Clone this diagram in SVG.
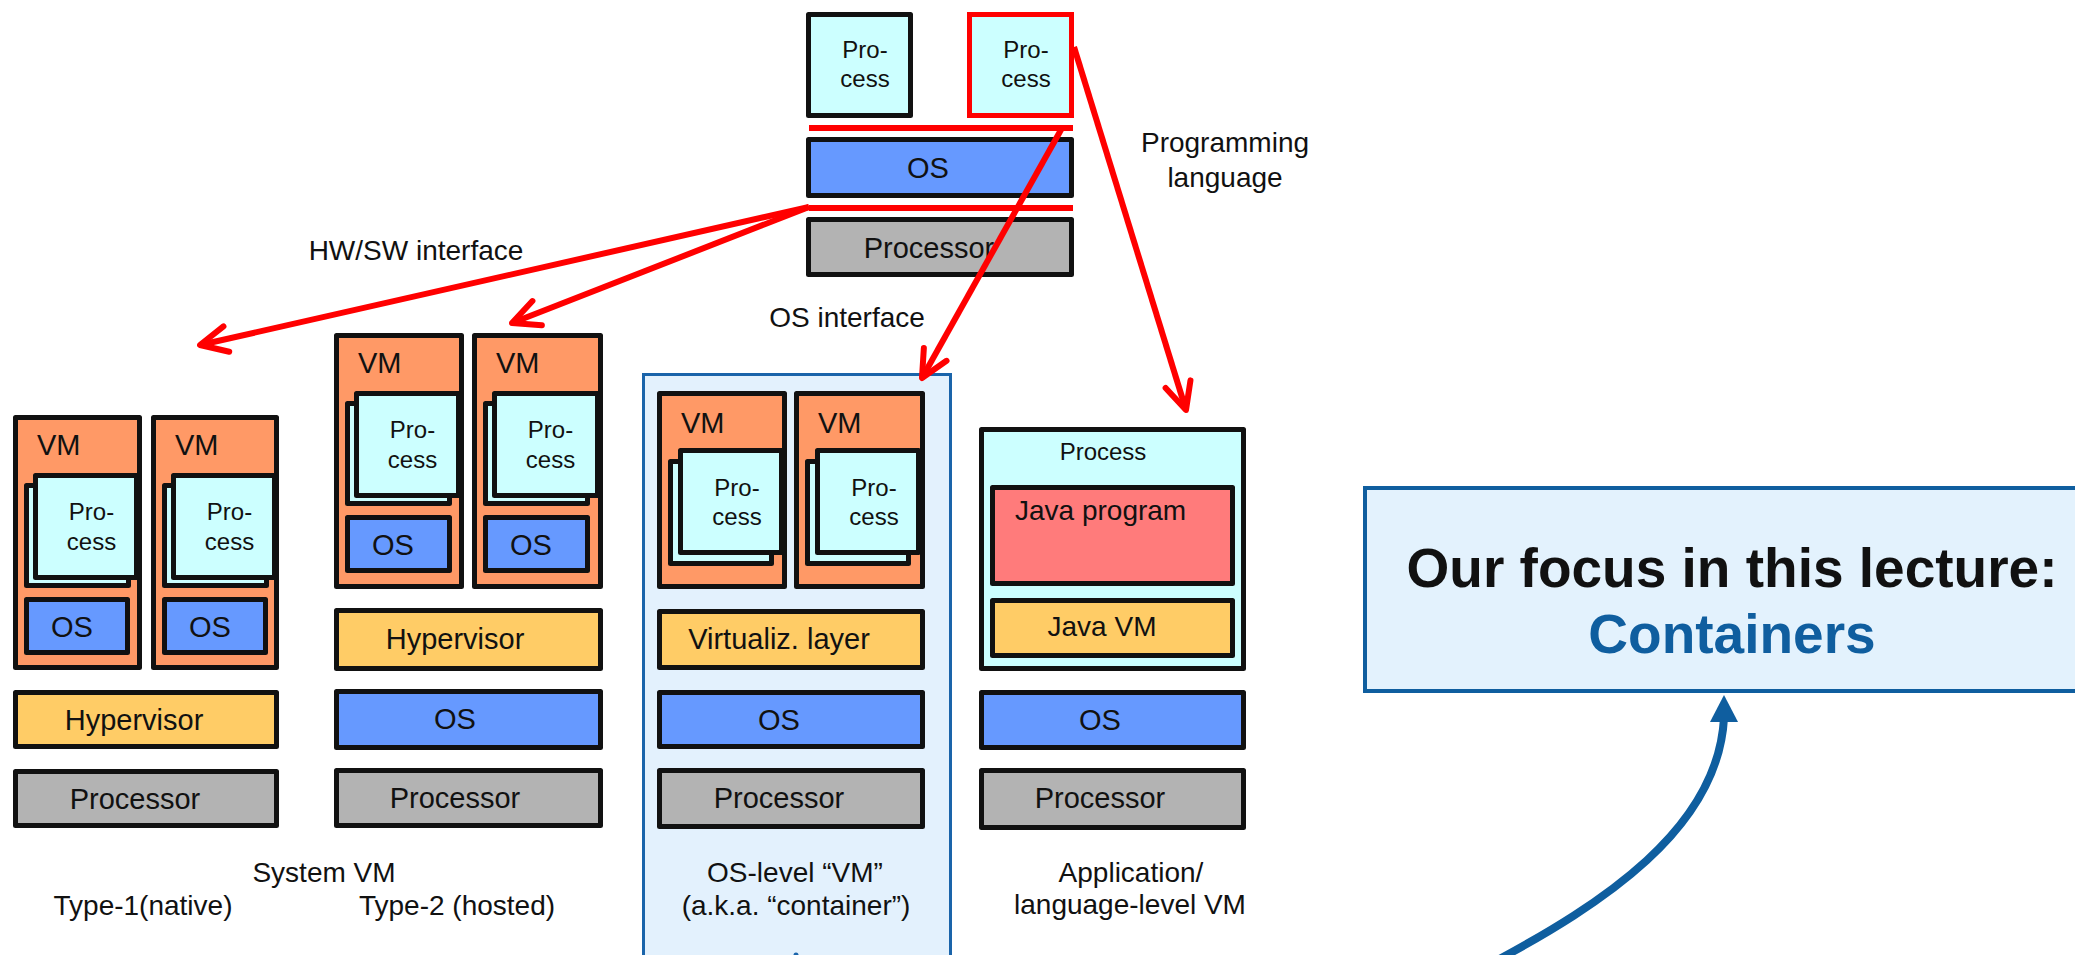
<svg xmlns="http://www.w3.org/2000/svg" width="2075" height="955" viewBox="0 0 2075 955">
  <defs>
    <style>
      text { font-family: "Liberation Sans", Arial, sans-serif; fill: #111; }
      .box { stroke: #111; stroke-width: 5; stroke-linejoin: round; }
      .proc { fill: #ccffff; }
      .os { fill: #6699ff; }
      .cpu { fill: #b3b3b3; }
      .hyp { fill: #ffcc66; }
      .vm { fill: #ff9966; }
      .java { fill: #ff7b7b; }
      .t24 { font-size: 24px; }
      .t28 { font-size: 28px; }
      .t29 { font-size: 29px; }
      .mid { text-anchor: middle; }
      .red { fill: none; stroke: #ff0000; stroke-width: 6; }
      .bold { font-weight: bold; font-size: 55px; text-anchor: middle; }
    </style>
    <marker id="vee" markerUnits="userSpaceOnUse" markerWidth="40" markerHeight="40" viewBox="-32 -20 40 40" refX="0" refY="0" orient="auto" overflow="visible">
      <path d="M-27,-13 L0,0 L-27,13" fill="none" stroke="#ff0000" stroke-width="6" stroke-linecap="round" stroke-linejoin="round"/>
    </marker>
  </defs>

  <rect width="2075" height="955" fill="#ffffff"/>

  <!-- Reference stack: two processes on an OS on a processor -->
  <g id="top-stack">
    <rect class="box proc" x="808.5" y="14.5" width="102" height="101"/>
    <text class="t24 mid" x="865" y="58">Pro-</text>
    <text class="t24 mid" x="865" y="87">cess</text>
    <rect class="proc" x="969.5" y="14.5" width="102" height="101" stroke="#ff0000" stroke-width="5"/>
    <text class="t24 mid" x="1026" y="58">Pro-</text>
    <text class="t24 mid" x="1026" y="87">cess</text>
    <rect class="box os" x="808.5" y="139.5" width="263" height="56"/>
    <text class="t29 mid" x="928" y="178">OS</text>
    <rect class="box cpu" x="808.5" y="219.5" width="263" height="55"/>
    <text class="t29 mid" x="929" y="258">Processor</text>
    <line x1="809" y1="128" x2="1073" y2="128" stroke="#ff0000" stroke-width="6"/>
    <line x1="809" y1="208" x2="1073" y2="208" stroke="#ff0000" stroke-width="6"/>
  </g>

  <!-- Type-1 (native) system VM -->
  <g id="type1">
    <rect class="box vm" x="15.5" y="417.5" width="124" height="250"/>
    <text class="t29" x="37" y="455">VM</text>
    <rect class="box proc" x="26.5" y="485.5" width="102" height="100"/>
    <rect class="box proc" x="35.5" y="475.5" width="101" height="102"/>
    <text class="t24 mid" x="91.5" y="520">Pro-</text>
    <text class="t24 mid" x="91.5" y="550">cess</text>
    <rect class="box os" x="26.5" y="599.5" width="101" height="53"/>
    <text class="t29 mid" x="72" y="637">OS</text>

    <rect class="box vm" x="153.5" y="417.5" width="123" height="250"/>
    <text class="t29" x="175" y="455">VM</text>
    <rect class="box proc" x="164.5" y="485.5" width="102" height="100"/>
    <rect class="box proc" x="173.5" y="475.5" width="101" height="102"/>
    <text class="t24 mid" x="229.5" y="520">Pro-</text>
    <text class="t24 mid" x="229.5" y="550">cess</text>
    <rect class="box os" x="164.5" y="599.5" width="101" height="53"/>
    <text class="t29 mid" x="210" y="637">OS</text>

    <rect class="box hyp" x="15.5" y="692.5" width="261" height="54"/>
    <text class="t29 mid" x="134" y="730">Hypervisor</text>
    <rect class="box cpu" x="15.5" y="771.5" width="261" height="54"/>
    <text class="t29 mid" x="135" y="809">Processor</text>
  </g>

  <!-- Type-2 (hosted) system VM -->
  <g id="type2">
    <rect class="box vm" x="336.5" y="335.5" width="125" height="251"/>
    <text class="t29" x="358" y="373">VM</text>
    <rect class="box proc" x="347.5" y="403.5" width="102" height="100"/>
    <rect class="box proc" x="356.5" y="393.5" width="102" height="102"/>
    <text class="t24 mid" x="412.5" y="438">Pro-</text>
    <text class="t24 mid" x="412.5" y="468">cess</text>
    <rect class="box os" x="347.5" y="517.5" width="102" height="53"/>
    <text class="t29 mid" x="393" y="555">OS</text>

    <rect class="box vm" x="474.5" y="335.5" width="126" height="251"/>
    <text class="t29" x="496" y="373">VM</text>
    <rect class="box proc" x="485.5" y="403.5" width="102" height="100"/>
    <rect class="box proc" x="494.5" y="393.5" width="103" height="102"/>
    <text class="t24 mid" x="550.5" y="438">Pro-</text>
    <text class="t24 mid" x="550.5" y="468">cess</text>
    <rect class="box os" x="485.5" y="517.5" width="102" height="53"/>
    <text class="t29 mid" x="531" y="555">OS</text>

    <rect class="box hyp" x="336.5" y="610.5" width="264" height="58"/>
    <text class="t29 mid" x="455" y="649">Hypervisor</text>
    <rect class="box os" x="336.5" y="691.5" width="264" height="56"/>
    <text class="t29 mid" x="455" y="729">OS</text>
    <rect class="box cpu" x="336.5" y="770.5" width="264" height="55"/>
    <text class="t29 mid" x="455" y="808">Processor</text>
  </g>

  <!-- OS-level VM (container), highlighted -->
  <g id="container">
    <rect x="643.5" y="374.5" width="307" height="600" fill="#e3f1fd" stroke="#1a64aa" stroke-width="3"/>
    <circle cx="796" cy="955" r="2.5" fill="#1a64aa"/>
    <rect class="box vm" x="659.5" y="393.5" width="125" height="193"/>
    <text class="t29" x="681" y="433">VM</text>
    <rect class="box proc" x="670.5" y="461.5" width="101" height="102"/>
    <rect class="box proc" x="680.5" y="450.5" width="101" height="102"/>
    <text class="t24 mid" x="737" y="496">Pro-</text>
    <text class="t24 mid" x="737" y="525">cess</text>

    <rect class="box vm" x="796.5" y="393.5" width="126" height="193"/>
    <text class="t29" x="818" y="433">VM</text>
    <rect class="box proc" x="807.5" y="461.5" width="101" height="102"/>
    <rect class="box proc" x="817.5" y="450.5" width="101" height="102"/>
    <text class="t24 mid" x="874" y="496">Pro-</text>
    <text class="t24 mid" x="874" y="525">cess</text>

    <rect class="box hyp" x="659.5" y="611.5" width="263" height="56"/>
    <text class="t29 mid" x="779" y="649">Virtualiz. layer</text>
    <rect class="box os" x="659.5" y="692.5" width="263" height="54"/>
    <text class="t29 mid" x="779" y="730">OS</text>
    <rect class="box cpu" x="659.5" y="770.5" width="263" height="56"/>
    <text class="t29 mid" x="779" y="808">Processor</text>

    <text class="t28 mid" x="795" y="882">OS-level “VM”</text>
    <text class="t28 mid" x="796" y="915">(a.k.a. “container”)</text>
  </g>

  <!-- Application / language-level VM -->
  <g id="language-vm">
    <rect class="box proc" x="981.5" y="429.5" width="262" height="239"/>
    <text class="t24 mid" x="1103" y="460">Process</text>
    <rect class="box java" x="992.5" y="487.5" width="240" height="96"/>
    <text class="t28" x="1015" y="520">Java program</text>
    <rect class="box hyp" x="992.5" y="600.5" width="240" height="55"/>
    <text class="t28 mid" x="1102" y="636">Java VM</text>
    <rect class="box os" x="981.5" y="692.5" width="262" height="55"/>
    <text class="t29 mid" x="1100" y="730">OS</text>
    <rect class="box cpu" x="981.5" y="770.5" width="262" height="57"/>
    <text class="t29 mid" x="1100" y="808">Processor</text>
    <text class="t28 mid" x="1131" y="882">Application/</text>
    <text class="t28 mid" x="1130" y="914">language-level VM</text>
  </g>

  <!-- Captions -->
  <g id="captions">
    <text class="t28 mid" x="324" y="882">System VM</text>
    <text class="t28 mid" x="143" y="915">Type-1(native)</text>
    <text class="t28 mid" x="457" y="915">Type-2 (hosted)</text>
    <text class="t28 mid" x="416" y="260">HW/SW interface</text>
    <text class="t28 mid" x="847" y="327">OS interface</text>
    <text class="t28 mid" x="1225" y="152">Programming</text>
    <text class="t28 mid" x="1225" y="187">language</text>
  </g>

  <!-- Focus callout -->
  <g id="focus">
    <rect x="1365" y="488" width="740" height="203" fill="#e3f2fd" stroke="#0f5e9f" stroke-width="4"/>
    <text class="bold" x="1732" y="587">Our focus in this lecture:</text>
    <text class="bold" x="1732" y="653" style="fill:#0f5e9f">Containers</text>
  </g>

  <!-- Connectors -->
  <g id="connectors">
    <line class="red" x1="809" y1="207" x2="200" y2="345" marker-end="url(#vee)"/>
    <line class="red" x1="809" y1="207" x2="512" y2="323" marker-end="url(#vee)"/>
    <line class="red" x1="1062" y1="128" x2="922" y2="378" marker-end="url(#vee)"/>
    <line class="red" x1="1074" y1="47" x2="1186" y2="410" marker-end="url(#vee)"/>
    <path d="M1494,962 C1600,905 1718,830 1724,718" fill="none" stroke="#0f5e9f" stroke-width="8"/>
    <polygon points="1724,695 1710,722 1738,722" fill="#0f5e9f"/>
  </g>
</svg>
